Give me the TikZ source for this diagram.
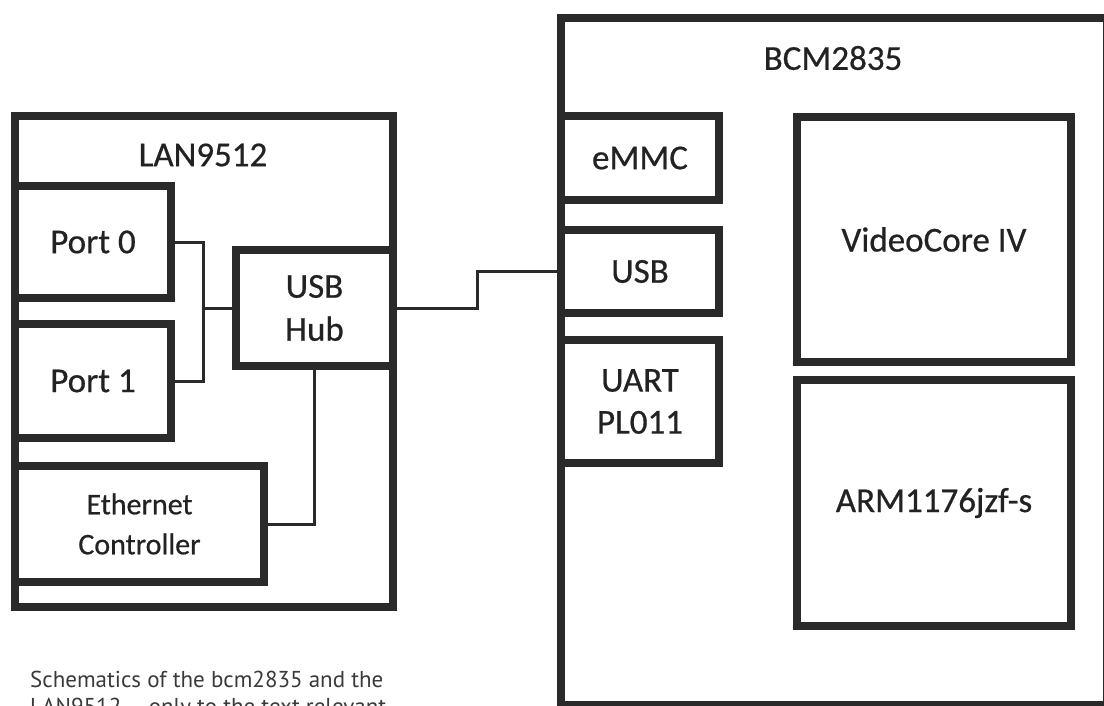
\documentclass[tikz,border=0pt]{standalone}
\usepackage{fontspec}
\setmainfont{Carlito}[FakeBold=0.6]
\newfontfamily\capfont{PT Sans}
\definecolor{ink}{HTML}{2A2A2A}
\definecolor{txt}{HTML}{222222}
\definecolor{captxt}{HTML}{3A3A3A}
\begin{document}
\begin{tikzpicture}[x=1pt,y=-1pt,
  blk/.style={draw=ink,line width=8pt,inner sep=0pt,outer sep=0pt,text=txt,align=center,
    font=\fontsize{35}{43}\selectfont},
  wire/.style={draw=ink,line width=3pt},
  lbl/.style={text=txt,font=\fontsize{35}{40}\selectfont,inner sep=0pt}]
\useasboundingbox (0,0) rectangle (1104,706);
% LAN9512
\node[blk,minimum width=378pt,minimum height=491pt] (lan) at (204,361.5) {};
\node[lbl] (lanlbl) at (203,155) {LAN9512};
\node[blk,minimum width=156pt,minimum height=112pt] (port0) at (93,242) {Port 0};
\node[blk,minimum width=156pt,minimum height=114pt] (port1) at (93,381) {Port 1};
\node[blk,minimum width=249pt,minimum height=116pt,font=\fontsize{30}{40}\selectfont] (eth) at (139.5,524) {Ethernet\\Controller};
\node[blk,minimum width=157pt,minimum height=116pt] (hub) at (314.5,308) {USB\\Hub};
% BCM2835
\node[blk,minimum width=546pt,minimum height=687pt] (bcm) at (834,361.5) {};
\node[lbl] (bcmlbl) at (833,58) {BCM2835};
\node[blk,minimum width=158pt,minimum height=84pt] (emmc) at (640,158) {eMMC};
\node[blk,minimum width=158pt,minimum height=83pt] (usb) at (640,271.5) {USB};
\node[blk,minimum width=158pt,minimum height=123pt,font=\fontsize{35}{42}\selectfont] (uart) at (640,401.5) {UART\\PL011};
\node[blk,minimum width=274pt,minimum height=245pt] (vc) at (934,239.5) {VideoCore IV};
\node[blk,minimum width=274pt,minimum height=246pt] (arm) at (934,503) {ARM1176jzf-s};
% connectors
\coordinate (j) at (203,308);
\coordinate (bend) at (477,308);
\draw[wire] (port0.east) -| (j) |- (port1.east);
\draw[wire] (j) -- (hub.west);
\draw[wire] (hub.south) |- (eth.east);
\draw[wire] (hub.east) -- (bend) |- (usb.west);
% caption
\node[anchor=base west,inner sep=0pt,align=left,text=captxt,
  font=\capfont\fontsize{23}{27}\selectfont] (cap) at (30,714)
  {Schematics of the bcm2835 and the\\LAN9512 – only to the text relevant};
\end{tikzpicture}
\end{document}
